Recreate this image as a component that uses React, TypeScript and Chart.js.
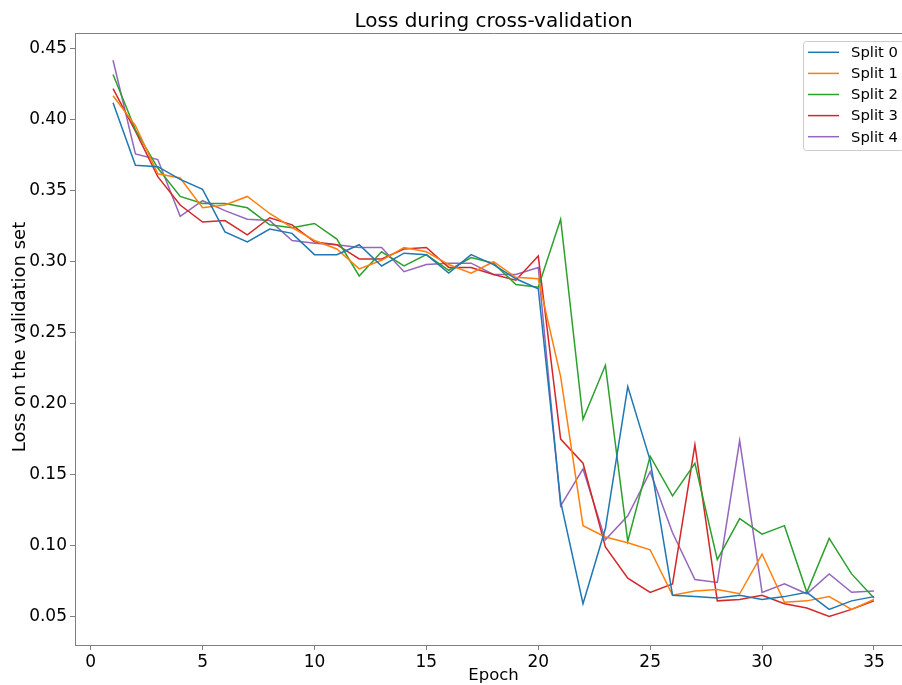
import React, { useEffect, useRef } from "react";
import { Chart, registerables } from "chart.js";

Chart.register(...registerables);

const epochs = [1,2,3,4,5,6,7,8,9,10,11,12,13,14,15,16,17,18,19,20,21,22,23,24,25,26,27,28,29,30,31,32,33,34,35];

const split0 = [0.412,0.368,0.367,0.358,0.351,0.321,0.314,0.323,0.320,0.305,0.305,0.312,0.297,0.306,0.305,0.292,0.305,0.298,0.288,0.281,0.131,0.059,0.112,0.212,0.160,0.065,0.064,0.063,0.065,0.062,0.064,0.067,0.055,0.061,0.064];
const split1 = [0.417,0.396,0.362,0.359,0.338,0.340,0.346,0.334,0.324,0.315,0.309,0.295,0.301,0.310,0.307,0.298,0.292,0.300,0.289,0.288,0.219,0.114,0.106,0.102,0.097,0.065,0.068,0.069,0.066,0.094,0.060,0.061,0.064,0.055,0.062];
const split2 = [0.432,0.393,0.366,0.346,0.341,0.341,0.338,0.326,0.324,0.327,0.316,0.290,0.307,0.297,0.305,0.294,0.303,0.299,0.284,0.282,0.330,0.189,0.227,0.103,0.163,0.135,0.158,0.090,0.119,0.108,0.114,0.067,0.105,0.080,0.063];
const split3 = [0.422,0.392,0.360,0.340,0.328,0.329,0.319,0.331,0.326,0.314,0.312,0.302,0.302,0.309,0.310,0.296,0.296,0.291,0.287,0.304,0.175,0.158,0.099,0.077,0.067,0.073,0.171,0.061,0.062,0.065,0.059,0.056,0.050,0.055,0.061];
const split4 = [0.442,0.376,0.372,0.332,0.343,0.336,0.330,0.329,0.315,0.313,0.312,0.310,0.310,0.293,0.298,0.299,0.299,0.291,0.291,0.296,0.128,0.154,0.104,0.121,0.152,0.109,0.076,0.074,0.174,0.067,0.073,0.066,0.080,0.067,0.068];

const seriesNames = ["Split 0", "Split 1", "Split 2", "Split 3", "Split 4"];
const seriesValues = [split0, split1, split2, split3, split4];
const colors = ["#1f77b4", "#ff7f0e", "#2ca02c", "#d62728", "#9467bd"];

const titleText = "Loss during cross-validation";
const xLabel = "Epoch";
const yLabel = "Loss on the validation set";

const FONT = "'DejaVu Sans', 'Liberation Sans', sans-serif";
const SPINE = "#808080";

const decorPlugin = {
  id: "decor",
  afterDraw(chart: any) {
    const ctx = chart.ctx;
    const a = chart.chartArea;
    ctx.save();
    ctx.strokeStyle = SPINE;
    ctx.lineWidth = 1;
    ctx.beginPath();
    ctx.moveTo(a.left, a.top + 0.5);
    ctx.lineTo(a.right, a.top + 0.5);
    ctx.stroke();
    ctx.beginPath();
    ctx.moveTo(a.right - 0.5, a.top);
    ctx.lineTo(a.right - 0.5, a.bottom);
    ctx.stroke();

    const cx = (a.left + a.right) / 2;
    ctx.fillStyle = "#000";
    ctx.textAlign = "center";
    ctx.textBaseline = "middle";
    ctx.font = `20px ${FONT}`;
    ctx.fillText(titleText, cx, 22);

    ctx.font = `16.5px ${FONT}`;
    ctx.fillText(xLabel, cx, 676);

    ctx.save();
    ctx.translate(20, (a.top + a.bottom) / 2 - 2);
    ctx.rotate(-Math.PI / 2);
    ctx.font = `18px ${FONT}`;
    ctx.fillText(yLabel, 0, 0);
    ctx.restore();

    // legend
    const bx = 803, by = 41, bw = 101, bh = 109, r = 3;
    ctx.fillStyle = "rgba(255,255,255,0.8)";
    ctx.strokeStyle = "#cccccc";
    ctx.lineWidth = 1;
    ctx.beginPath();
    ctx.moveTo(bx + r + 0.5, by + 0.5);
    ctx.lineTo(bx + bw - r + 0.5, by + 0.5);
    ctx.arcTo(bx + bw + 0.5, by + 0.5, bx + bw + 0.5, by + r + 0.5, r);
    ctx.lineTo(bx + bw + 0.5, by + bh - r + 0.5);
    ctx.arcTo(bx + bw + 0.5, by + bh + 0.5, bx + bw - r + 0.5, by + bh + 0.5, r);
    ctx.lineTo(bx + r + 0.5, by + bh + 0.5);
    ctx.arcTo(bx + 0.5, by + bh + 0.5, bx + 0.5, by + bh - r + 0.5, r);
    ctx.lineTo(bx + 0.5, by + r + 0.5);
    ctx.arcTo(bx + 0.5, by + 0.5, bx + r + 0.5, by + 0.5, r);
    ctx.closePath();
    ctx.fill();
    ctx.stroke();

    ctx.textAlign = "left";
    ctx.textBaseline = "middle";
    ctx.font = `14.8px ${FONT}`;
    for (let i = 0; i < seriesNames.length; i++) {
      const y = 52.3 + i * 21.1;
      ctx.strokeStyle = colors[i];
      ctx.lineWidth = 1.5;
      ctx.beginPath();
      ctx.moveTo(808, y);
      ctx.lineTo(839, y);
      ctx.stroke();
      ctx.fillStyle = "#000";
      ctx.fillText(seriesNames[i], 851, y + 1);
    }
    ctx.restore();
  },
};

export default function App() {
  const ref = useRef<HTMLCanvasElement>(null);

  useEffect(() => {
    if (!ref.current) return;
    const chart = new Chart(ref.current, {
      type: "line",
      data: {
        datasets: seriesNames.map((name, i) => ({
          label: name,
          data: epochs.map((e, j) => ({ x: e, y: seriesValues[i][j] })),
          borderColor: colors[i],
          backgroundColor: colors[i],
          borderWidth: 1.5,
          pointRadius: 0,
          tension: 0,
          fill: false,
        })),
      },
      options: {
        animation: false,
        responsive: false,
        devicePixelRatio: 1,
        layout: { padding: { top: 33, right: 8, left: 0, bottom: 0 } },
        plugins: {
          legend: { display: false },
          title: { display: false },
          tooltip: { enabled: false },
        },
        scales: {
          x: {
            type: "linear",
            min: -0.7,
            max: 36.7,
            afterFit: (s: any) => { s.height = 40; },
            ticks: {
              stepSize: 5,
              includeBounds: false,
              autoSkip: false,
              maxRotation: 0,
              padding: 2,
              color: "#000",
              font: { family: FONT, size: 17 },
              callback: (v: any) => String(Math.round(Number(v))),
            },
            grid: { drawOnChartArea: false, drawTicks: true, tickLength: 5, tickColor: SPINE, tickWidth: 1 },
            border: { display: true, color: SPINE, width: 1 },
          },
          y: {
            type: "linear",
            min: 0.0299,
            max: 0.4612,
            afterFit: (s: any) => { s.width = 75; },
            ticks: {
              stepSize: 0.05,
              includeBounds: false,
              autoSkip: false,
              padding: 3,
              color: "#000",
              font: { family: FONT, size: 17 },
              callback: (v: any) => Number(v).toFixed(2),
            },
            grid: { drawOnChartArea: false, drawTicks: true, tickLength: 5, tickColor: SPINE, tickWidth: 1 },
            border: { display: true, color: SPINE, width: 1 },
          },
        },
      },
      plugins: [decorPlugin],
    });
    return () => chart.destroy();
  }, []);

  return (
    <div style={{ position: "fixed", left: 0, top: 0, width: 902, height: 685, overflow: "hidden", background: "#fff" }}>
      <canvas ref={ref} width={920} height={685} style={{ width: 920, height: 685, display: "block" }} />
    </div>
  );
}
